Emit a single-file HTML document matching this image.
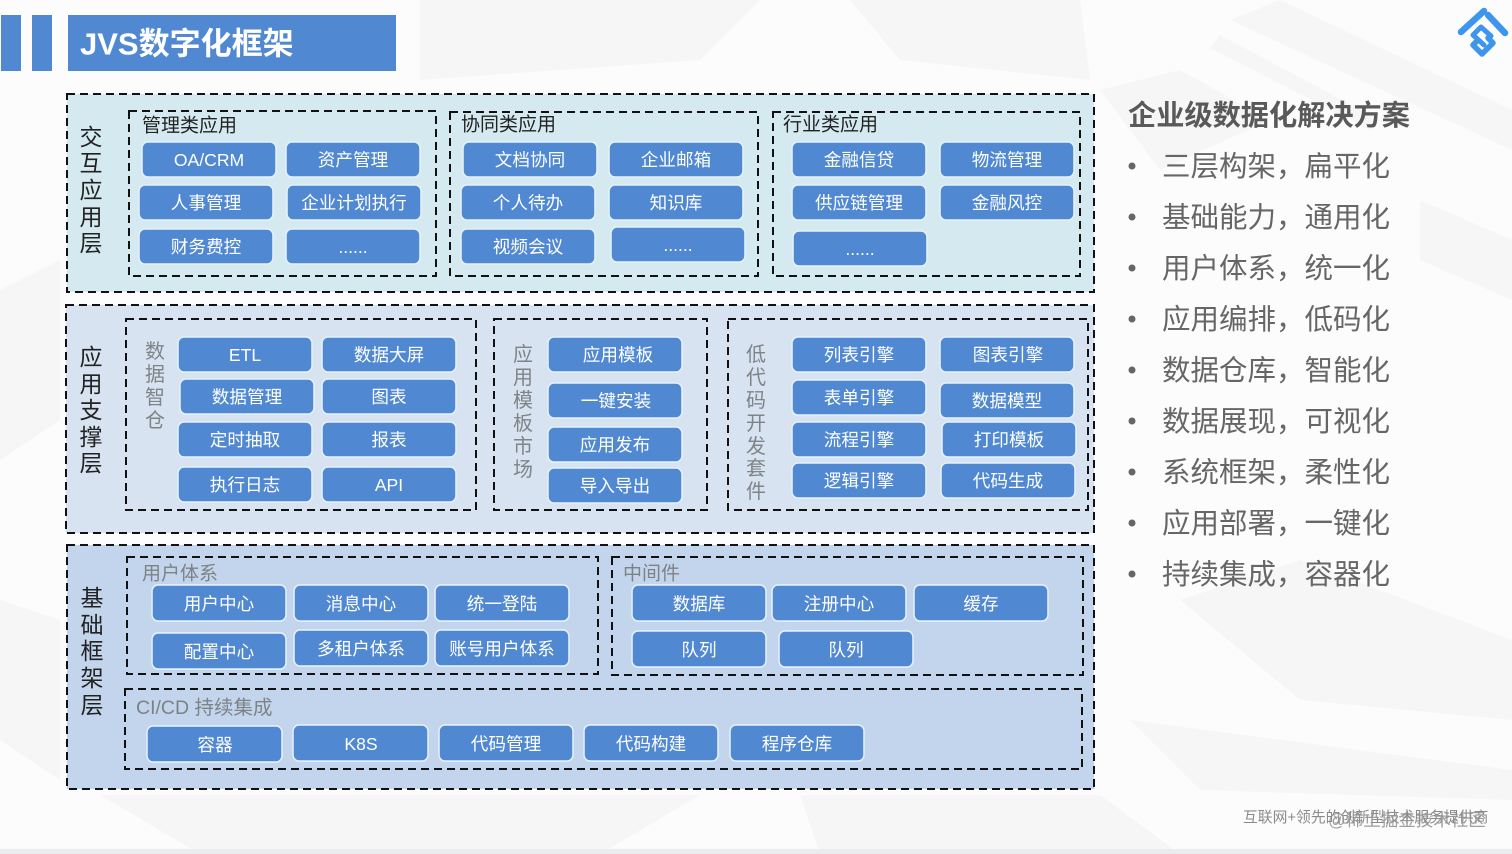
<!DOCTYPE html>
<html lang="zh-CN"><head><meta charset="utf-8"><title>JVS数字化框架</title>
<style>
html,body{margin:0;padding:0;background:#fcfcfc;width:1512px;height:854px;overflow:hidden}
svg{display:block}
text{font-family:"Liberation Sans","Noto Sans CJK SC",sans-serif;dominant-baseline:central}
.b rect{fill:#5089d2;stroke:#e4f1fa;stroke-width:1.5;transform-box:fill-box;transform-origin:center;transform:scale(1.015,1.06)}
.b text{fill:#fff;font-size:17.6px;text-anchor:middle;transform:translateY(1px)}
.d{stroke:#111;stroke-width:2;stroke-dasharray:8 5;fill:none}
.v text{font-size:23px;fill:#222;text-anchor:middle}
.g text{font-size:20px;fill:#7f8487;text-anchor:middle;transform:translateY(1px)}
.h{font-size:19px;fill:#222}
.h2{font-size:19px;fill:#7d8286}
.r text{font-size:28.5px;fill:#666;transform:translateY(1px)}
.bg polygon{fill:#f6f6f6}
</style></head><body>
<svg width="1512" height="854" viewBox="0 0 1512 854" xmlns="http://www.w3.org/2000/svg">
<rect width="1512" height="854" fill="#fcfcfc"/>
<g class="bg">
<polygon points="1280,0 1512,110 1512,150 1230,20"/>
<polygon points="1220,35 1380,120 1370,130 1210,48"/>
<polygon points="1100,90 1180,70 1270,120 1160,170"/>
<polygon points="1420,200 1512,240 1512,300 1420,260"/>
<polygon points="1180,600 1300,560 1512,640 1512,720 1300,700"/>
<polygon points="1130,720 1512,770 1512,800 1200,790"/>
<polygon points="0,290 60,260 60,420 0,460"/>
<polygon points="0,600 60,620 60,780 0,740"/>
<polygon points="420,0 760,0 700,60 420,80"/>
<polygon points="850,0 1080,0 1090,80 900,60"/>
<polygon points="100,795 700,795 600,854 200,854"/>
<polygon points="800,795 1100,795 1180,854 820,854"/>
</g>
<rect x="0" y="849" width="1512" height="5" fill="#eaeced"/>
<rect x="1" y="15" width="20" height="56" fill="#5089d2"/>
<rect x="32" y="15" width="20" height="56" fill="#5089d2"/>
<rect x="68" y="15" width="328" height="56" fill="#5089d2"/>
<text x="80" y="44" font-size="31" font-weight="700" fill="#fff">JVS数字化框架</text>

<!-- logo -->
<g fill="none" stroke="#3d95ec" stroke-linecap="round" stroke-linejoin="round">
<path d="M1461,32 L1484,11" stroke-width="6.5"/>
<path d="M1488,15 L1505,33" stroke-width="6.5"/>
<path d="M1491,36 L1481,27 L1473,35 L1484,45" stroke-width="5"/>
<path d="M1476,42 L1473,45 L1482,54 L1493,43 L1488,38" stroke-width="5.5"/>
</g>

<!-- layers -->
<rect class="d" x="67" y="94" width="1027" height="198" style="fill:#d5e9f0"/>
<rect class="d" x="66" y="305" width="1028" height="228" style="fill:#d7e3f1"/>
<rect class="d" x="67" y="545" width="1027" height="244" style="fill:#c3d5ed"/>

<rect class="d" x="129" y="111" width="307" height="165"/>
<rect class="d" x="450" y="112" width="308" height="164"/>
<rect class="d" x="773" y="112" width="307" height="164"/>
<rect class="d" x="126" y="319" width="350" height="191"/>
<rect class="d" x="494" y="319" width="213" height="191"/>
<rect class="d" x="728" y="319" width="360" height="191"/>
<rect class="d" x="127" y="557" width="471" height="117"/>
<rect class="d" x="612" y="557" width="471" height="118"/>
<rect class="d" x="125" y="689" width="957" height="80"/>

<text class="h" x="142" y="126">管理类应用</text>
<text class="h" x="461" y="125">协同类应用</text>
<text class="h" x="783" y="125">行业类应用</text>
<text class="h2" x="142" y="574">用户体系</text>
<text class="h2" x="623" y="574">中间件</text>
<text class="h2" x="136" y="708" style="font-size:19.5px">CI/CD 持续集成</text>

<g class="v">
<text x="91" y="137">交</text><text x="91" y="163">互</text><text x="91" y="190">应</text><text x="91" y="217">用</text><text x="91" y="243">层</text>
<text x="91" y="357">应</text><text x="91" y="384">用</text><text x="91" y="410">支</text><text x="91" y="437">撑</text><text x="91" y="463">层</text>
<text x="92" y="598">基</text><text x="92" y="625">础</text><text x="92" y="651">框</text><text x="92" y="678">架</text><text x="92" y="705">层</text>
</g>
<g class="g">
<text x="155" y="351">数</text><text x="155" y="374">据</text><text x="155" y="397">智</text><text x="155" y="420">仓</text>
<text x="523" y="354">应</text><text x="523" y="377">用</text><text x="523" y="400">模</text><text x="523" y="423">板</text><text x="523" y="446">市</text><text x="523" y="469">场</text>
<text x="756" y="354">低</text><text x="756" y="377">代</text><text x="756" y="400">码</text><text x="756" y="423">开</text><text x="756" y="446">发</text><text x="756" y="468">套</text><text x="756" y="491">件</text>
</g>

<g class="b">
<rect x="143" y="143" width="132" height="33" rx="6"/><text x="209" y="159">OA/CRM</text>
<rect x="287" y="143" width="132" height="33" rx="6"/><text x="353" y="159">资产管理</text>
<rect x="140" y="186" width="132" height="33" rx="6"/><text x="206" y="202">人事管理</text>
<rect x="288" y="186" width="132" height="33" rx="6"/><text x="354" y="202">企业计划执行</text>
<rect x="140" y="230" width="132" height="33" rx="6"/><text x="206" y="246">财务费控</text>
<rect x="287" y="230" width="132" height="33" rx="6"/><text x="353" y="246">......</text>

<rect x="464" y="143" width="132" height="33" rx="6"/><text x="530" y="159">文档协同</text>
<rect x="610" y="143" width="132" height="33" rx="6"/><text x="676" y="159">企业邮箱</text>
<rect x="462" y="186" width="132" height="33" rx="6"/><text x="528" y="202">个人待办</text>
<rect x="610" y="186" width="132" height="33" rx="6"/><text x="676" y="202">知识库</text>
<rect x="462" y="230" width="132" height="33" rx="6"/><text x="528" y="246">视频会议</text>
<rect x="612" y="228" width="132" height="33" rx="6"/><text x="678" y="244">......</text>

<rect x="793" y="143" width="132" height="33" rx="6"/><text x="859" y="159">金融信贷</text>
<rect x="941" y="143" width="132" height="33" rx="6"/><text x="1007" y="159">物流管理</text>
<rect x="793" y="186" width="132" height="33" rx="6"/><text x="859" y="202">供应链管理</text>
<rect x="941" y="186" width="132" height="33" rx="6"/><text x="1007" y="202">金融风控</text>
<rect x="794" y="232" width="132" height="33" rx="6"/><text x="860" y="248">......</text>

<rect x="179" y="338" width="132" height="33" rx="6"/><text x="245" y="354">ETL</text>
<rect x="323" y="338" width="132" height="33" rx="6"/><text x="389" y="354">数据大屏</text>
<rect x="181" y="380" width="132" height="33" rx="6"/><text x="247" y="396">数据管理</text>
<rect x="323" y="380" width="132" height="33" rx="6"/><text x="389" y="396">图表</text>
<rect x="179" y="423" width="132" height="33" rx="6"/><text x="245" y="439">定时抽取</text>
<rect x="323" y="423" width="132" height="33" rx="6"/><text x="389" y="439">报表</text>
<rect x="179" y="468" width="132" height="33" rx="6"/><text x="245" y="484">执行日志</text>
<rect x="323" y="468" width="132" height="33" rx="6"/><text x="389" y="484">API</text>

<rect x="549" y="338" width="132" height="33" rx="6"/><text x="618" y="354">应用模板</text>
<rect x="549" y="384" width="132" height="33" rx="6"/><text x="616" y="400">一键安装</text>
<rect x="549" y="428" width="132" height="33" rx="6"/><text x="615" y="444">应用发布</text>
<rect x="549" y="469" width="132" height="33" rx="6"/><text x="615" y="485">导入导出</text>

<rect x="793" y="338" width="132" height="33" rx="6"/><text x="859" y="354">列表引擎</text>
<rect x="941" y="338" width="132" height="33" rx="6"/><text x="1008" y="354">图表引擎</text>
<rect x="793" y="381" width="132" height="33" rx="6"/><text x="859" y="397">表单引擎</text>
<rect x="941" y="384" width="132" height="33" rx="6"/><text x="1007" y="400">数据模型</text>
<rect x="793" y="423" width="132" height="33" rx="6"/><text x="859" y="439">流程引擎</text>
<rect x="943" y="423" width="132" height="33" rx="6"/><text x="1009" y="439">打印模板</text>
<rect x="793" y="464" width="132" height="33" rx="6"/><text x="859" y="480">逻辑引擎</text>
<rect x="942" y="464" width="132" height="33" rx="6"/><text x="1008" y="480">代码生成</text>

<rect x="153" y="586" width="132" height="34" rx="6"/><text x="219" y="603">用户中心</text>
<rect x="295" y="586" width="132" height="34" rx="6"/><text x="361" y="603">消息中心</text>
<rect x="436" y="586" width="132" height="34" rx="6"/><text x="502" y="603">统一登陆</text>
<rect x="153" y="634" width="132" height="34" rx="6"/><text x="219" y="651">配置中心</text>
<rect x="295" y="631" width="132" height="34" rx="6"/><text x="361" y="648">多租户体系</text>
<rect x="436" y="631" width="132" height="34" rx="6"/><text x="502" y="648">账号用户体系</text>

<rect x="633" y="586" width="132" height="34" rx="6"/><text x="699" y="603">数据库</text>
<rect x="773" y="586" width="132" height="34" rx="6"/><text x="839" y="603">注册中心</text>
<rect x="915" y="586" width="132" height="34" rx="6"/><text x="981" y="603">缓存</text>
<rect x="633" y="632" width="132" height="34" rx="6"/><text x="699" y="649">队列</text>
<rect x="780" y="632" width="132" height="34" rx="6"/><text x="846" y="649">队列</text>

<rect x="148" y="727" width="133" height="34" rx="6"/><text x="215" y="744">容器</text>
<rect x="294" y="726" width="133" height="34" rx="6"/><text x="361" y="743">K8S</text>
<rect x="440" y="726" width="132" height="34" rx="6"/><text x="506" y="743">代码管理</text>
<rect x="585" y="726" width="132" height="34" rx="6"/><text x="651" y="743">代码构建</text>
<rect x="731" y="726" width="132" height="34" rx="6"/><text x="797" y="743">程序仓库</text>
</g>

<text x="1128" y="115" font-size="28.2" font-weight="700" fill="#595959">企业级数据化解决方案</text>
<g class="r">
<circle cx="1132" cy="166" r="3.5" fill="#666"/><text x="1162" y="166">三层构架，扁平化</text>
<circle cx="1132" cy="217" r="3.5" fill="#666"/><text x="1162" y="217">基础能力，通用化</text>
<circle cx="1132" cy="268" r="3.5" fill="#666"/><text x="1162" y="268">用户体系，统一化</text>
<circle cx="1132" cy="319" r="3.5" fill="#666"/><text x="1162" y="319">应用编排，低码化</text>
<circle cx="1132" cy="370" r="3.5" fill="#666"/><text x="1162" y="370">数据仓库，智能化</text>
<circle cx="1132" cy="421" r="3.5" fill="#666"/><text x="1162" y="421">数据展现，可视化</text>
<circle cx="1132" cy="472" r="3.5" fill="#666"/><text x="1162" y="472">系统框架，柔性化</text>
<circle cx="1132" cy="523" r="3.5" fill="#666"/><text x="1162" y="523">应用部署，一键化</text>
<circle cx="1132" cy="574" r="3.5" fill="#666"/><text x="1162" y="574">持续集成，容器化</text>
</g>

<text x="1243" y="818" font-size="14.8" fill="#8a8a8a">互联网+领先的创新型技术服务提供商</text>
<text x="1328" y="820" font-size="17.5" fill="#8f8f8f" opacity=".85">@稀土掘金技术社区</text>
</svg>
</body></html>
